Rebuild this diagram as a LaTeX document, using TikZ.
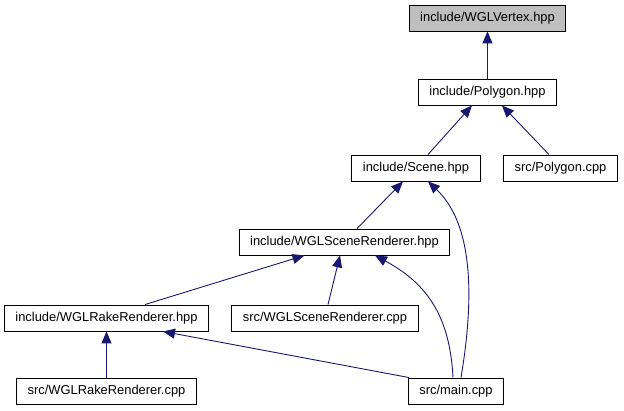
\documentclass[tikz,border=0pt]{standalone}
\usepackage{fontspec}
\setmainfont{Liberation Sans}
\usetikzlibrary{arrows.meta, calc}

\definecolor{edgeblue}{HTML}{191970}
\definecolor{rootgray}{HTML}{BFBFBF}

\begin{document}
\begin{tikzpicture}[
    x=1pt, y=-1pt,
    file/.style={rectangle, draw, line width=0.9pt, fill=white, inner xsep=11pt, inner ysep=0pt, minimum height=26pt, font=\fontsize{12.9}{15}\selectfont},
    root/.style={file, fill=rootgray},
    dep/.style={draw=edgeblue, line width=0.9pt, -{Triangle[length=12pt, width=10pt, fill=edgeblue]}}
]

    % Frame
    \useasboundingbox[fill=white] (0,0) rectangle (624,411);

    % Headers
    \node[root] (vertex) at (487.5, 18) {include/WGLVertex.hpp};
    \node[file] (polyh) at (487.5, 92) {include/Polygon.hpp};
    \node[file] (scene) at (416, 168) {include/Scene.hpp};
    \node[file] (sceneh) at (344.5, 242) {include/WGLSceneRenderer.hpp};
    \node[file] (rakeh) at (106.5, 318) {include/WGLRakeRenderer.hpp};

    % Sources
    \node[file] (polycpp) at (560.5, 168) {src/Polygon.cpp};
    \node[file] (scenecpp) at (325, 318) {src/WGLSceneRenderer.cpp};
    \node[file] (rakecpp) at (106.5, 391) {src/WGLRakeRenderer.cpp};
    \node[file] (main) at (456, 391) {src/main.cpp};

    % Includes
    \draw[dep] (polyh) -- (vertex);
    \draw[dep] ([xshift=12pt]scene.north) -- ([xshift=-15.5pt]polyh.south);
    \draw[dep] ([xshift=-11.5pt]polycpp.north) -- ([xshift=14.5pt]polyh.south);
    \draw[dep] ([xshift=12.5pt]sceneh.north) -- ([xshift=-13pt]scene.south);
    \draw[dep] ([xshift=5pt]main.north) .. controls (474,300) and (474,225) .. ([xshift=12pt]scene.south);
    \draw[dep] ([xshift=38.5pt]rakeh.north) -- ([xshift=-40pt]sceneh.south);
    \draw[dep] ([xshift=3pt]scenecpp.north) -- ([xshift=-4.5pt]sceneh.south);
    \draw[dep] ([xshift=-3pt]main.north) .. controls (450,320) and (430,285) .. ([xshift=30.5pt]sceneh.south);
    \draw[dep] ([xshift=-47pt]main.north) -- ([xshift=56.5pt]rakeh.south);
    \draw[dep] (rakecpp) -- (rakeh);

\end{tikzpicture}
\end{document}
